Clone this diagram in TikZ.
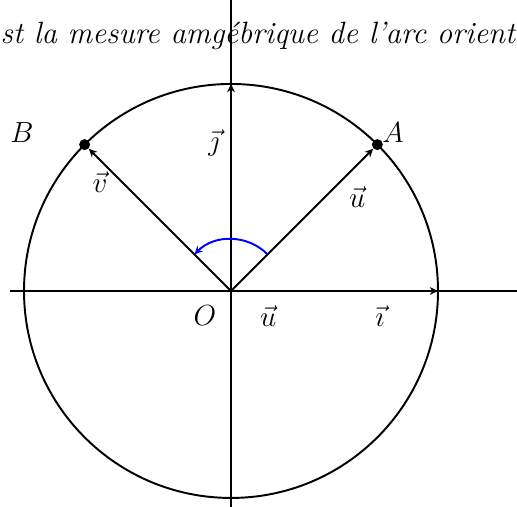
\documentclass[tikz,border=0pt]{standalone}
\usepackage{amsmath,amssymb}
\usepackage{tikz}
\usetikzlibrary{arrows.meta,calc,positioning}
\tikzset{
  axe/.style  = {thick},
  vect/.style = {thick, -{Stealth[length=3.4pt,width=3.2pt]}},
  pt/.style   = {circle, fill=black, inner sep=1.6pt},
  lab/.style  = {font=\large},
  angle/.style = {blue, thick, -{Stealth[length=3.4pt,width=3.2pt]}},
}

\begin{document}
\begin{tikzpicture}[x=1cm,y=1cm]
  \useasboundingbox (-3.348,-3.130) rectangle (4.145,4.217);
  \coordinate (O) at (0,0);
  \coordinate (I) at (3,0);
  \coordinate (J) at (0,3);
  \coordinate (xg) at (-3.2,0);
  \coordinate (xd) at (4.145,0);
  \coordinate (yb) at (0,-3.130);
  \coordinate (yh) at (0,4.217);
  % texte coupe en haut
  \node[font=\fontsize{12.7}{15}\selectfont\itshape, anchor=base] (titre) at (0.39,3.59)
    {st la mesure amgébrique de l'arc orient};
  \draw[axe] (xg) -- (xd);
  \draw[axe] (yb) -- (yh);
  \draw[thick] (O) circle (3);
  \node[pt] (A) at (45:3) {};
  \node[pt] (B) at (135:3) {};
  \draw[vect] (O) -- (I);
  \draw[vect] (O) -- (J);
  \draw[vect] (O) -- (A);
  \draw[vect] (O) -- (B);
  \coordinate (a1) at (45:0.75);
  \draw[angle] (a1) arc (45:135:0.75);
  \node[lab] (lA) at (2.35,2.30) {$A$};
  \node[lab] (lB) at (-3.03,2.29) {$B$};
  \node[lab] (lO) at (-0.38,-0.36) {$O$};
  \node[lab] (lu) at (1.83,1.36) {$\vec{u}$};
  \node[lab] (lv) at (-1.9,1.58) {$\vec{v}$};
  \node[lab] (lj) at (-0.25,2.14) {$\vec{\jmath}$};
  \node[lab] (lu2) at (0.54,-0.36) {$\vec{u}$};
  \node[lab] (li) at (2.16,-0.36) {$\vec{\imath}$};
\end{tikzpicture}
\end{document}
